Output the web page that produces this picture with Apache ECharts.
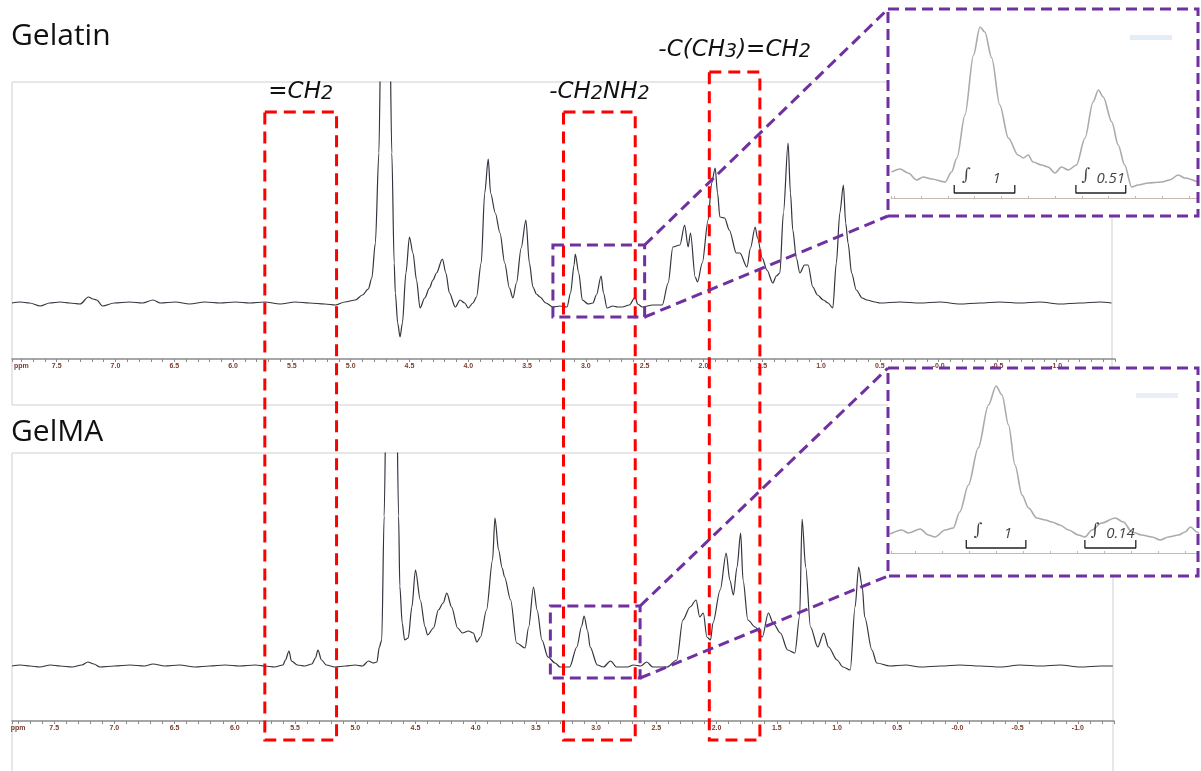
<!DOCTYPE html>
<html><head><meta charset="utf-8">
<script src="https://cdn.jsdelivr.net/npm/echarts@6/dist/echarts.min.js"></script>
<style>html,body{margin:0;padding:0;background:#fff}#c{width:1201px;height:771px}</style>
</head><body><div id="c"></div>
<script>
// ---------- DATA ----------
// Gelatin 1H NMR: chemical shift (ppm) and relative signal
const gelatinShift = [7.88,7.81,7.73,7.64,7.56,7.47,7.39,7.30,7.23,7.19,7.16,7.11,7.01,6.88,6.77,6.68,6.62,6.49,6.37,6.24,6.11,5.98,5.86,5.73,5.60,5.47,5.35,5.22,5.13,5.05,4.96,4.90,4.85,4.82,4.79,4.76,4.74,4.67,4.65,4.63,4.62,4.60,4.58,4.56,4.53,4.50,4.47,4.44,4.41,4.37,4.33,4.30,4.27,4.22,4.19,4.16,4.11,4.07,4.03,4.00,3.96,3.93,3.89,3.86,3.83,3.81,3.77,3.73,3.69,3.65,3.62,3.59,3.55,3.51,3.48,3.45,3.42,3.39,3.34,3.28,3.22,3.16,3.13,3.10,3.09,3.06,3.03,2.98,2.94,2.91,2.87,2.85,2.82,2.77,2.73,2.69,2.63,2.58,2.56,2.52,2.43,2.35,2.30,2.26,2.20,2.16,2.13,2.11,2.07,2.05,2.01,1.96,1.93,1.90,1.88,1.86,1.82,1.78,1.72,1.69,1.63,1.60,1.56,1.54,1.50,1.46,1.41,1.38,1.35,1.32,1.28,1.26,1.24,1.21,1.18,1.14,1.11,1.07,1.03,0.98,0.94,0.90,0.87,0.84,0.81,0.79,0.77,0.74,0.70,0.65,0.61,0.54,0.50,0.33,0.16,-0.01,-0.18,-0.35,-0.52,-0.69,-0.86,-1.03,-1.20,-1.37,-1.47];
const gelatinSignal = [0,1,0,-3,0,1,0,-1,6,4,3,-3,0,1,0,3,0,1,-1,1,0,1,0,1,-1,1,0,-1,-2,1,3,8,14,25,60,150,300,300,150,40,10,-20,-34,-20,30,66,50,23,-5,5,15,23,30,44,30,10,-4,3,0,-5,0,6,40,110,144,110,90,70,40,15,5,20,55,83,40,16,9,6,0,-4,-3,-4,10,38,49,30,3,-1,0,8,27,10,-5,-3,-4,-4,-2,6,-1,-4,-2,-2,20,56,58,78,56,70,26,21,40,83,120,135,110,86,85,73,50,50,36,55,76,65,45,33,20,27,30,90,160,110,73,45,30,38,38,16,8,3,0,-5,40,90,118,80,60,30,13,5,3,1,0,1,0,1,-1,0,1,0,1,-1,0,1,0];

// GelMA 1H NMR
const gelmaShift = [7.85,7.78,7.70,7.62,7.53,7.45,7.35,7.27,7.22,7.17,7.12,7.00,6.87,6.75,6.68,6.58,6.46,6.33,6.21,6.08,5.96,5.83,5.75,5.67,5.60,5.58,5.55,5.53,5.48,5.42,5.36,5.33,5.31,5.28,5.24,5.17,5.08,5.00,4.94,4.89,4.85,4.82,4.80,4.78,4.76,4.74,4.66,4.64,4.63,4.61,4.59,4.56,4.53,4.50,4.46,4.42,4.40,4.35,4.31,4.27,4.24,4.20,4.15,4.11,4.06,4.02,3.99,3.96,3.91,3.86,3.84,3.81,3.78,3.76,3.71,3.66,3.59,3.56,3.52,3.49,3.45,3.40,3.34,3.30,3.22,3.16,3.12,3.10,3.07,3.05,2.99,2.94,2.88,2.83,2.74,2.69,2.63,2.58,2.53,2.41,2.33,2.28,2.22,2.17,2.14,2.11,2.08,2.05,2.03,1.97,1.92,1.89,1.86,1.83,1.80,1.78,1.74,1.68,1.62,1.57,1.53,1.47,1.41,1.35,1.31,1.29,1.26,1.22,1.16,1.11,1.07,1.00,0.95,0.89,0.85,0.82,0.79,0.77,0.71,0.67,0.56,0.43,0.31,0.14,-0.02,-0.19,-0.36,-0.52,-0.69,-0.85,-1.02,-1.19,-1.29];
const gelmaSignal = [0,1,0,-1,1,0,-1,1,4,2,-1,0,1,0,2,0,1,-1,0,1,0,1,0,-1,1,6,15,5,1,0,2,8,16,6,1,-1,0,1,0,5,3,4,19,26,150,300,300,150,80,43,26,28,59,96,66,39,31,38,56,63,73,59,38,33,35,33,24,29,56,106,148,116,98,89,66,23,18,39,79,56,26,9,3,-1,-1,19,40,50,35,19,1,-1,5,-1,-1,1,0,4,-1,-1,6,46,59,66,49,53,29,26,43,76,113,86,71,99,133,86,46,39,29,53,43,33,16,13,50,147,99,39,19,33,19,6,-1,-4,59,99,79,49,16,3,0,1,-1,0,1,0,-1,1,0,1,-1,0,0];

// Expanded views (3.3 - 2.7 ppm)
const gelatinZoomShift = [3.255,3.239,3.224,3.208,3.196,3.180,3.155,3.143,3.133,3.118,3.102,3.090,3.081,3.068,3.053,3.037,3.019,3.009,3.000,2.991,2.975,2.963,2.950,2.938,2.925,2.910,2.894,2.879,2.869,2.860,2.844,2.832,2.820,2.807,2.795,2.776,2.751,2.736,2.720,2.708,2.680];
const gelatinZoomSignal = [26,29,25,18,21,19,16,26,40,83,143,171,166,140,93,60,43,40,43,36,33,31,25,31,28,33,60,96,108,101,76,53,33,11,13,15,16,18,23,20,15];
const gelmaZoomShift = [3.296,3.274,3.262,3.240,3.225,3.213,3.194,3.179,3.167,3.151,3.133,3.114,3.100,3.089,3.077,3.065,3.052,3.040,3.025,3.009,2.997,2.982,2.966,2.948,2.936,2.923,2.905,2.880,2.865,2.849,2.831,2.812,2.797,2.782,2.763,2.751,2.741,2.729,2.723];
const gelmaZoomSignal = [19,23,20,24,18,16,23,25,41,68,105,148,167,158,128,88,58,45,35,33,31,28,23,18,16,23,30,35,31,21,18,16,13,16,18,21,26,21,18];

// Integral regions [from ppm, to ppm] and values
const gelatinIntegralRanges = [[3.138, 3.025], [2.911, 2.818]];
const gelatinIntegralValues = ['1', '0.51'];
const gelmaIntegralRanges = [[3.155, 3.045], [2.936, 2.842]];
const gelmaIntegralValues = ['1', '0.14'];

// Highlighted proton groups [from ppm, to ppm]
const groupRanges = [[5.73, 5.12], [3.19, 2.58], [1.95, 1.52]];
const groupNames = ['{t|=CH}{s|2}', '{t|-CH}{s|2}{t|NH}{s|2}', '{t|-C(CH}{s|3}{t|)=CH}{s|2}'];

// Expanded windows [ppm from, ppm to, signal low, signal high]
const gelatinWindow = [3.28, 2.50, -14, 58];
const gelmaWindow = [3.38, 2.635, -12, 60];

const titles = ['Gelatin', 'GelMA'];

// ---------- CHART ----------
const chart = echarts.init(document.getElementById('c'), null, {renderer: 'canvas'});
const zip = (a, b) => a.map((v, i) => [v, b[i]]);

function ppmLabel(lowest) {
  return function (v) {
    if (Math.abs(v - 7.8) < 1e-6) return 'ppm';
    if (v < lowest - 1e-6) return '';
    const h = v * 2;
    if (Math.abs(h - Math.round(h)) > 1e-6) return '';
    if (Math.abs(v) < 1e-9) return '-0.0';
    return v.toFixed(1);
  };
}

function mainX(gi, min, max) {
  return {
    gridIndex: gi, type: 'value', inverse: true, min: min, max: max, interval: 0.1,
    axisLine: {show: true, onZero: false, lineStyle: {color: '#8a8a8a', width: 1.5}},
    axisTick: {show: true, length: 3, lineStyle: {color: '#8a8a8a', width: 1}},
    axisLabel: {formatter: ppmLabel(-1.0), fontSize: 7, fontWeight: 'bold', color: '#7a3a2c', margin: 4, fontFamily: 'Liberation Sans'},
    splitLine: {show: false}, z: 1
  };
}
function insetX(gi, min, max) {
  return {
    gridIndex: gi, type: 'value', inverse: true, min: min, max: max, splitNumber: 11,
    axisLine: {show: true, onZero: false, lineStyle: {color: '#c9b9b0', width: 1}},
    axisTick: {show: true, length: 2, inside: true, lineStyle: {color: '#c9b9b0'}},
    axisLabel: {show: false}, splitLine: {show: false}, z: 10
  };
}

const lineBase = {type: 'line', showSymbol: false, symbol: 'none', silent: true, clip: true, animation: false};
const smoothLine = {smooth: 0.3, smoothMonotone: 'x'};

const series = [
  Object.assign({}, lineBase, smoothLine, {xAxisIndex: 0, yAxisIndex: 0, data: zip(gelatinShift, gelatinSignal), lineStyle: {color: '#34343f', width: 1.2}, z: 2}),
  Object.assign({}, lineBase, smoothLine, {xAxisIndex: 1, yAxisIndex: 1, data: zip(gelmaShift, gelmaSignal), lineStyle: {color: '#34343f', width: 1.2}, z: 2}),
  Object.assign({}, lineBase, smoothLine, {xAxisIndex: 2, yAxisIndex: 2, data: zip(gelatinZoomShift, gelatinZoomSignal), lineStyle: {color: '#ababab', width: 1.6}, z: 10}),
  Object.assign({}, lineBase, smoothLine, {xAxisIndex: 3, yAxisIndex: 3, data: zip(gelmaZoomShift, gelmaZoomSignal), lineStyle: {color: '#ababab', width: 1.6}, z: 10})
];

function addIntegrals(axisIdx, ranges, values) {
  ranges.forEach((r, i) => {
    series.push(Object.assign({}, lineBase, {
      xAxisIndex: axisIdx, yAxisIndex: axisIdx, clip: false,
      data: [[r[0], 13], [r[0], 5], [r[1], 5], [r[1], 13]],
      lineStyle: {color: '#222', width: 1.3}, z: 12
    }));
    const w = r[0] - r[1];
    series.push({
      type: 'scatter', xAxisIndex: axisIdx, yAxisIndex: axisIdx, symbolSize: 0, silent: true, animation: false, z: 13,
      data: [
        {value: [r[0] - 0.2 * w, 22], label: {formatter: '\u222B', fontFamily: 'DejaVu Serif', fontSize: 17, fontStyle: 'normal'}},
        {value: [r[0] - 0.7 * w, 19], label: {formatter: values[i]}}
      ],
      label: {show: true, position: 'inside', color: '#111', fontSize: 15, fontStyle: 'italic', fontFamily: 'Open Sans'}
    });
  });
}
addIntegrals(2, gelatinIntegralRanges, gelatinIntegralValues);
addIntegrals(3, gelmaIntegralRanges, gelmaIntegralValues);

chart.setOption({
  animation: false,
  backgroundColor: '#ffffff',
  grid: [
    {left: 12, top: 82, width: 1103, height: 277},
    {left: 12, top: 453, width: 1102, height: 268},
    {left: 891, top: 12, width: 306, height: 186},
    {left: 891, top: 370, width: 306, height: 183}
  ],
  xAxis: [mainX(0, -1.5, 7.88), mainX(1, -1.3, 7.85), insetX(2, 2.685, 3.256), insetX(3, 2.729, 3.294)],
  yAxis: [
    {gridIndex: 0, type: 'value', min: -56, max: 221, show: false},
    {gridIndex: 1, type: 'value', min: -55, max: 213, show: false},
    {gridIndex: 2, type: 'value', min: 0, max: 186, show: false},
    {gridIndex: 3, type: 'value', min: 0, max: 183, show: false}
  ],
  series: series
});

// ---------- ANNOTATIONS (positions from the axes) ----------
const px = (gi, x, y) => chart.convertToPixel({gridIndex: gi}, [x, y]);
const g = [];
const purple = '#7030a0', red = '#ff0000';

// panel frames
g.push({type: 'rect', shape: {x: 12, y: 82, width: 1100, height: 323}, style: {fill: 'none', stroke: '#cfcfcf', lineWidth: 1}, z: 0, silent: true});
g.push({type: 'polyline', shape: {points: [[12, 780], [12, 453], [1113, 453], [1113, 780]]}, style: {fill: 'none', stroke: '#cfcfcf', lineWidth: 1}, z: 0, silent: true});

// titles
g.push({type: 'text', style: {text: titles[0], x: 11, y: 36, verticalAlign: 'middle', fontSize: 30, fontFamily: 'Open Sans', fill: '#111'}, z: 40});
g.push({type: 'text', style: {text: titles[1], x: 11, y: 432, verticalAlign: 'middle', fontSize: 30, fontFamily: 'Open Sans', fill: '#111'}, z: 40});

// inset backgrounds
const insets = [{x: 888, y: 9, w: 310, h: 207}, {x: 888, y: 368, w: 310, h: 208}];
insets.forEach(b => {
  g.push({type: 'rect', shape: {x: b.x, y: b.y, width: b.w, height: b.h}, style: {fill: '#ffffff'}, z: 5, silent: true});
});
g.push({type: 'rect', shape: {x: 1130, y: 35, width: 42, height: 5}, style: {fill: '#e3ecf7'}, z: 11, silent: true});
g.push({type: 'rect', shape: {x: 1136, y: 393, width: 42, height: 5}, style: {fill: '#e9eef8'}, z: 11, silent: true});

// red group boxes
const boxTops = [112, 112, 72];
const boxBottom = 740;
const labelYs = [92, 92, 50];
const richStyle = {
  t: {fontSize: 23, fontStyle: 'italic', fontFamily: 'DejaVu Sans', fill: '#111', verticalAlign: 'bottom'},
  s: {fontSize: 19, fontStyle: 'italic', fontFamily: 'DejaVu Sans', fill: '#111', verticalAlign: 'bottom'}
};
groupRanges.forEach((r, i) => {
  const xa = px(0, r[0], 0)[0], xb = px(0, r[1], 0)[0];
  g.push({type: 'rect', shape: {x: xa, y: boxTops[i], width: xb - xa, height: boxBottom - boxTops[i]},
    style: {fill: 'none', stroke: red, lineWidth: 3, lineDash: [12, 7]}, z: 25, silent: true});
  g.push({type: 'text', style: {text: groupNames[i], x: (xa + xb) / 2, y: labelYs[i], align: 'center', verticalAlign: 'middle', rich: richStyle}, z: 40});
});

// purple zoom windows + leader lines
[[0, gelatinWindow, insets[0]], [1, gelmaWindow, insets[1]]].forEach(([gi, w, b]) => {
  const p1 = px(gi, w[0], w[3]);
  const p2 = px(gi, w[1], w[2]);
  const st = {fill: 'none', stroke: purple, lineWidth: 3, lineDash: [11, 6]};
  g.push({type: 'rect', shape: {x: p1[0], y: p1[1], width: p2[0] - p1[0], height: p2[1] - p1[1]}, style: st, z: 30, silent: true});
  g.push({type: 'line', shape: {x1: p2[0], y1: p1[1], x2: b.x, y2: b.y}, style: st, z: 30, silent: true});
  g.push({type: 'line', shape: {x1: p2[0], y1: p2[1], x2: b.x, y2: b.y + b.h}, style: st, z: 30, silent: true});
  g.push({type: 'rect', shape: {x: b.x, y: b.y, width: b.w, height: b.h}, style: st, z: 30, silent: true});
});

chart.setOption({graphic: {elements: g}});
</script>
</body></html>
